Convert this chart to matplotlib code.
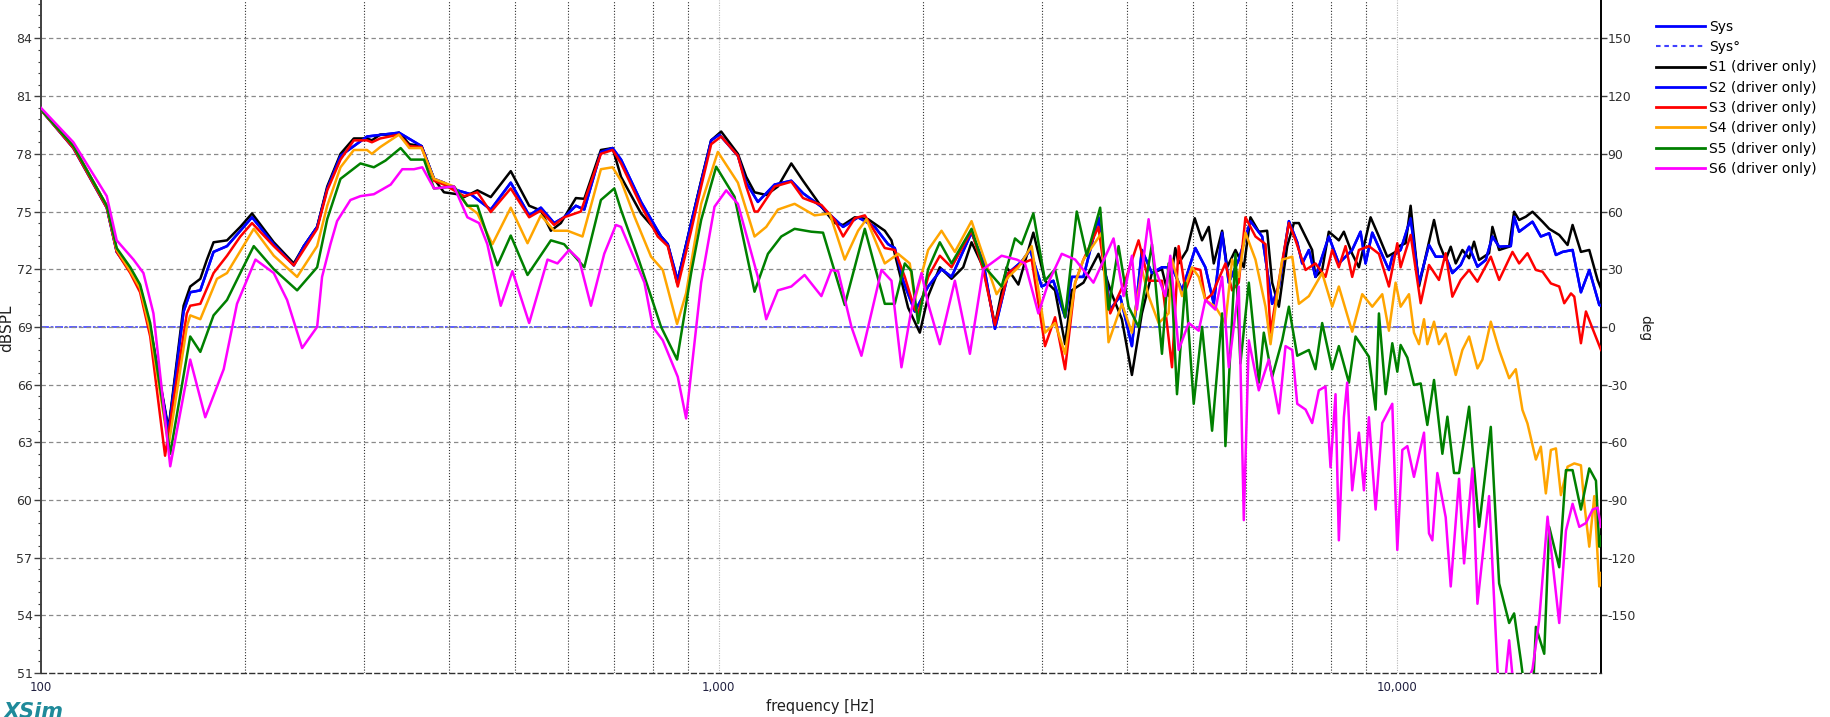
import matplotlib
matplotlib.use("Agg")
import matplotlib.pyplot as plt
from matplotlib.ticker import FixedLocator, FixedFormatter, AutoMinorLocator, NullFormatter
from matplotlib.lines import Line2D

plt.rcParams['font.family'] = ['DejaVu Sans']
plt.rcParams['axes.unicode_minus'] = False

# ---------------- data ----------------
s1_freq = [100, 111.7, 125.1, 129.4, 135.5, 140.1, 145, 154.3, 162.4, 166.1, 171.9, 175.8, 179.8, 188.2, 196.9, 204.9, 220.6, 236.1, 244.3, 255.6, 264.5, 276.7, 289.5, 302.8, 307.8, 316.6, 331.6, 337.5, 349.6, 364.4, 380.1, 393.2, 411.5, 421, 440.5, 460.9, 493.3, 525.1, 546.4, 565.3, 584.8, 615.4, 633.2, 670, 697.1, 717.4, 767.8, 821.9, 840.7, 867.8, 910.2, 941.7, 974.3, 1007.9, 1066.8, 1097.5, 1128.9, 1174.6, 1222.1, 1279, 1330.9, 1416.5, 1482.3, 1525, 1586.7, 1660.2, 1756.8, 1797.1, 1838.2, 1901.7, 1978.8, 2035.6, 2117.9, 2203.9, 2292.9, 2358.8, 2454.3, 2553.8, 2657.3, 2765.4, 2909.7, 3027.3, 3132.2, 3240.8, 3314.8, 3449.5, 3629.6, 3798.5, 3930.2, 4066.4, 4206.4, 4352.2, 4503.2, 4606.1, 4712.2, 4765.7, 4903.7, 5033, 5159.5, 5278.5, 5369.4, 5523.7, 5618.6, 5780, 5946.1, 6081.8, 6256.5, 6436.2, 6546.9, 6697.9, 6890.5, 7049.3, 7168.9, 7498.9, 7584, 7758.9, 7935.9, 8210.9, 8352, 8592, 8790.1, 9145.3, 9408, 9678.3, 9956.3, 10069, 10302, 10478, 10779, 11025, 11344, 11536, 11803, 12006, 12212, 12491, 12779, 12996, 13219, 13677, 13832, 14151, 14641, 14889, 15145, 15494, 15849, 16398, 16773, 17355, 17853, 18160, 18682, 19219, 19770, 20000]
s1_db = [80.3, 78.4, 75.3, 73.0, 72.0, 71.1, 69.0, 63.7, 70.1, 71.1, 71.5, 72.5, 73.4, 73.5, 74.2, 74.9, 73.4, 72.3, 73.2, 74.2, 76.3, 78.0, 78.8, 78.8, 78.7, 79.0, 79.0, 79.1, 78.5, 78.4, 76.7, 76.0, 75.9, 75.75, 76.1, 75.75, 77.1, 75.3, 75.05, 74.0, 74.4, 75.7, 75.66, 78.2, 78.3, 76.8, 74.9, 73.7, 73.3, 71.3, 74.4, 76.6, 78.7, 79.16, 78.0, 76.8, 76.0, 75.86, 76.3, 77.5, 76.6, 75.25, 74.4, 74.3, 74.7, 74.6, 74.0, 73.5, 72.1, 70.0, 68.7, 70.6, 72.1, 71.5, 72.1, 73.4, 72.1, 69.1, 72.1, 71.2, 73.9, 71.4, 70.9, 68.1, 70.9, 71.3, 72.8, 70.7, 69.4, 66.5, 69.7, 71.8, 72.0, 70.6, 73.1, 72.3, 73.0, 74.65, 73.5, 74.2, 72.3, 74.0, 72.1, 73.0, 72.1, 74.7, 73.95, 74.0, 71.3, 70.05, 73.2, 74.4, 74.4, 73.0, 71.6, 71.96, 73.95, 73.5, 73.95, 72.8, 72.1, 74.7, 73.7, 72.65, 72.9, 73.2, 73.35, 75.3, 71.1, 72.65, 74.56, 73.35, 72.5, 73.17, 72.3, 73.0, 72.57, 73.43, 72.48, 72.83, 74.2, 73.0, 73.17, 74.99, 74.56, 74.73, 74.99, 74.47, 74.1, 73.78, 73.26, 74.3, 72.9, 73.0, 71.44, 71.0]

s2_freq = [100, 111.7, 125.1, 129.4, 135.5, 140.1, 145, 154.3, 162.4, 166.1, 171.9, 179.8, 188.2, 204.9, 220.6, 236.1, 244.3, 255.6, 264.5, 276.7, 302.8, 337.5, 364.4, 380.1, 393.2, 411.5, 430.6, 460.9, 493.3, 525.1, 546.4, 571.6, 591.3, 615.4, 633.2, 670, 697.1, 717.4, 767.8, 821.9, 840.7, 869.8, 910.2, 974.3, 1002, 1066.8, 1097.5, 1141.7, 1208.4, 1279, 1330.9, 1416.5, 1525, 1604.7, 1698.2, 1776.7, 1817.5, 1869.7, 1945.3, 2035.6, 2130.1, 2203.9, 2358.8, 2454.3, 2553.8, 2672.6, 2796.8, 2877.1, 2993.3, 3114.2, 3240.8, 3314.8, 3449.5, 3629.6, 3777.5, 3907.6, 4066.4, 4206.4, 4352.2, 4503.2, 4659.4, 4821, 5044, 5218, 5369, 5524, 5650, 5846, 6082, 6329, 6547, 6698, 6930, 7129, 7250, 7417, 7584, 7936, 8211, 8592, 8839, 8991, 9198, 9734, 9845, 10127, 10478, 10779, 11152, 11407, 11803, 12073, 12420, 12779, 13146, 13523, 13832, 14151, 14722, 14889, 15145, 15849, 16304, 16773, 17160, 17551, 18160, 18682, 19219, 19884, 20000]
s2_db = [80.3, 78.3, 75.2, 72.9, 71.9, 71.0, 68.9, 63.6, 69.8, 70.8, 70.9, 72.9, 73.2, 74.7, 73.3, 72.2, 73.2, 74.2, 76.2, 77.9, 78.9, 79.1, 78.4, 76.7, 76.5, 76.1, 75.9, 75.1, 76.5, 74.8, 75.2, 74.4, 74.7, 75.3, 75.1, 78.1, 78.3, 77.7, 75.5, 73.7, 73.3, 71.4, 74.4, 78.7, 79.0, 77.9, 76.5, 75.5, 76.4, 76.6, 75.95, 75.25, 74.2, 74.7, 74.2, 73.3, 73.1, 71.4, 69.8, 71.1, 72.0, 71.6, 73.9, 72.4, 68.9, 71.8, 72.4, 73.0, 71.1, 71.4, 69.5, 71.6, 71.6, 74.7, 69.9, 70.6, 68.0, 73.0, 71.8, 72.1, 72.1, 70.9, 73.1, 72.1, 70.2, 73.9, 71.3, 72.5, 74.5, 73.7, 70.2, 71.1, 74.5, 73.4, 72.3, 73.0, 71.6, 73.7, 72.3, 73.0, 73.95, 72.3, 73.9, 71.96, 72.65, 73.0, 74.65, 71.26, 73.26, 72.65, 72.65, 71.8, 72.22, 73.17, 72.13, 72.48, 73.7, 73.17, 73.2, 74.73, 73.95, 74.47, 73.7, 73.87, 72.74, 72.9, 73.0, 70.8, 71.96, 70.14, 70.1]

s3_freq = [100, 111.7, 125.1, 129.4, 135.5, 140.1, 145, 152.5, 164.2, 166.1, 171.9, 179.8, 188.2, 196.9, 204.9, 220.6, 236.1, 255.6, 264.5, 276.7, 289.5, 302.8, 307.8, 316.6, 337.5, 349.6, 364.4, 380.1, 393.2, 421, 440.5, 460.9, 493.3, 525.1, 546.4, 571.6, 591.3, 625.8, 670, 697.1, 717.4, 767.8, 812.7, 840.7, 869.8, 910.2, 941.7, 974.3, 1007.9, 1066.8, 1097.5, 1128.9, 1141.7, 1208.4, 1279, 1330.9, 1416.5, 1482.3, 1525, 1586.7, 1641.7, 1756.8, 1817.5, 1880.3, 1945.3, 1967.5, 2035.6, 2117.9, 2203.9, 2358.8, 2454.3, 2553.8, 2672.6, 2796.8, 2893.1, 3027.3, 3132.2, 3240.8, 3353.2, 3449.5, 3629.6, 3777.5, 3974.8, 4159.2, 4303.4, 4503.2, 4659.4, 4765.7, 4875.6, 5015.5, 5131.1, 5218.1, 5338.6, 5586.3, 5713.8, 5845.6, 5979, 6186.3, 6400.7, 6510.8, 6697.9, 6930.3, 7088.4, 7334.2, 7584, 7846.9, 8027.7, 8210.9, 8400.2, 8592, 8790.1, 9092.8, 9408, 9734.2, 10014, 10127, 10478, 10842, 11152, 11536, 11803, 12073, 12420, 12779, 13146, 13756, 14151, 14807, 15145, 15580, 16032, 16398, 16870, 17355, 17653, 18060, 18265, 18682, 19003, 19441, 20000]
s3_db = [80.3, 78.3, 75.2, 72.9, 71.8, 70.8, 68.5, 62.3, 69.7, 70.1, 70.2, 71.8, 72.7, 73.7, 74.4, 73.2, 72.2, 74.1, 76.1, 77.7, 78.7, 78.7, 78.6, 78.8, 79.0, 78.4, 78.35, 76.6, 76.4, 75.8, 76.0, 74.97, 76.2, 74.7, 75.05, 74.3, 74.7, 75.0, 78.0, 78.2, 77.5, 75.3, 73.7, 73.2, 71.1, 74.0, 76.3, 78.5, 78.9, 77.9, 76.3, 75.0, 75.0, 76.3, 76.55, 75.7, 75.34, 74.56, 73.7, 74.65, 74.8, 73.1, 73.0, 71.6, 69.9, 69.7, 71.6, 72.7, 72.1, 74.0, 71.96, 69.1, 71.8, 72.3, 72.5, 68.0, 69.5, 66.8, 71.3, 72.5, 74.2, 69.7, 71.4, 73.5, 71.4, 71.4, 66.9, 73.2, 70.9, 72.05, 71.96, 70.4, 70.7, 72.3, 70.9, 71.3, 74.7, 73.7, 73.3, 68.7, 71.4, 74.4, 73.5, 71.96, 72.3, 71.6, 73.0, 72.1, 73.2, 71.6, 73.0, 73.2, 72.8, 71.1, 73.35, 72.1, 73.78, 70.23, 72.22, 71.44, 72.83, 70.57, 71.44, 71.96, 71.35, 72.65, 71.44, 72.9, 72.3, 72.83, 71.96, 71.87, 71.26, 71.1, 70.23, 70.74, 70.57, 68.15, 69.8, 68.9, 67.8]

s4_freq = [100, 111.7, 125.1, 129.4, 135.5, 140.1, 145, 154.3, 164.2, 166.1, 171.9, 181.9, 188.2, 206.1, 220.6, 238.8, 255.6, 264.5, 276.7, 289.5, 302.8, 307.8, 316.6, 337.5, 349.6, 364.4, 380.1, 406.8, 425.7, 440.5, 463.5, 493.3, 522.2, 546.4, 571.6, 598.2, 629.4, 670, 697.1, 717.4, 751.6, 794.4, 826.6, 867.8, 894.8, 941.7, 996.6, 1066.8, 1128.9, 1174.6, 1222.1, 1293.4, 1384.4, 1457.2, 1533.5, 1604.7, 1650.8, 1756.8, 1838.2, 1912.4, 1945.3, 2035.6, 2130.1, 2228.9, 2358.8, 2454.3, 2568.3, 2672.6, 2765.4, 2893.1, 3027.3, 3132.2, 3240.8, 3353.2, 3449.5, 3671.7, 3755.9, 3930.2, 4066.4, 4206.4, 4303.4, 4452.6, 4606.1, 4659, 4821, 4987, 5102, 5218, 5399, 5586, 5714, 5846, 5979, 6186, 6401, 6511, 6623, 6774, 7009, 7169, 7417, 7759, 8028, 8211, 8592, 8890, 9198, 9515, 9734, 9956, 10127, 10419, 10597, 10779, 10965, 11089, 11344, 11536, 11803, 12212, 12491, 12779, 13146, 13371, 13756, 14151, 14641, 14975, 15317, 15580, 16032, 16304, 16584, 16870, 17160, 17455, 17853, 18265, 18682, 18898, 19219, 19549, 19884, 20000]
s4_db = [80.3, 78.4, 75.3, 73.0, 71.9, 71.0, 68.8, 62.8, 69.0, 69.6, 69.4, 71.5, 71.8, 74.1, 72.7, 71.6, 73.2, 75.3, 77.3, 78.2, 78.2, 78.0, 78.35, 79.0, 78.3, 78.3, 76.7, 76.3, 75.3, 74.9, 73.3, 75.2, 73.35, 74.8, 74.0, 74.0, 73.7, 77.2, 77.3, 76.6, 74.7, 72.65, 71.96, 69.15, 70.75, 75.4, 78.1, 76.5, 73.7, 74.2, 75.1, 75.4, 74.8, 74.9, 72.5, 74.0, 74.6, 72.3, 72.8, 72.3, 70.4, 73.0, 74.0, 72.9, 74.5, 72.7, 70.7, 71.6, 72.1, 73.2, 68.7, 69.2, 67.6, 71.3, 72.5, 73.9, 68.2, 70.2, 68.7, 72.0, 70.6, 69.2, 69.7, 72.5, 70.6, 72.1, 71.6, 70.4, 70.05, 69.2, 72.5, 71.6, 73.9, 72.5, 70.05, 68.1, 70.05, 72.5, 72.65, 70.2, 70.6, 71.8, 70.05, 71.1, 68.75, 70.7, 70.05, 70.7, 68.8, 71.3, 70.05, 70.7, 68.7, 68.1, 69.4, 68.1, 69.27, 68.1, 68.65, 66.5, 67.8, 68.5, 66.84, 67.3, 69.27, 67.8, 66.33, 66.8, 64.68, 63.98, 62.1, 62.77, 60.34, 62.6, 62.68, 60.25, 61.73, 61.9, 61.8, 59.8, 57.57, 60.2, 55.5, 56.2]

s5_freq = [100, 111.7, 125.1, 129.4, 135.5, 140.1, 145, 155.2, 166.1, 171.9, 179.8, 188.2, 196.9, 206.1, 220.6, 238.8, 255.6, 264.5, 276.7, 296.1, 309.9, 322.4, 339.4, 351.1, 367.4, 380.1, 406.8, 425.7, 440.5, 471.5, 493.3, 522.2, 565.3, 591.3, 633.2, 670, 701.1, 717.4, 759.2, 785.5, 821.9, 867.8, 910.2, 941.7, 991, 1054.6, 1128.9, 1181.4, 1236.1, 1293.4, 1368.8, 1424.4, 1533.5, 1641.7, 1756.8, 1817.5, 1880.3, 1923.4, 1967.5, 2035.6, 2117.9, 2203.9, 2358.8, 2454.3, 2612.4, 2733.8, 2796.8, 2909.7, 3027.3, 3132.2, 3240.8, 3371.8, 3488.6, 3650.6, 3755.9, 3886.1, 4019.9, 4159.2, 4352.2, 4503.2, 4606.1, 4659, 4739, 4876, 5016, 5160, 5339, 5524, 5586, 5780, 5878, 6048, 6257, 6364, 6547, 6774, 6930, 7129, 7417, 7584, 7759, 8028, 8211, 8496, 8690, 9093, 9303, 9408, 9625, 9845, 10014, 10127, 10362, 10597, 10842, 11089, 11344, 11670, 11871, 12142, 12351, 12779, 12996, 13219, 13756, 14151, 14641, 14889, 15232, 15580, 15849, 16032, 16493, 16773, 17355, 17755, 18160, 18682, 19219, 19661, 19884, 20000]
s5_db = [80.3, 78.4, 75.3, 73.1, 72.1, 71.2, 69.2, 62.4, 68.5, 67.7, 69.6, 70.4, 71.8, 73.2, 72.0, 70.9, 72.1, 74.6, 76.7, 77.5, 77.3, 77.65, 78.3, 77.7, 77.7, 76.2, 76.3, 75.3, 75.3, 72.2, 73.75, 71.7, 73.5, 73.3, 72.1, 75.6, 76.2, 75.08, 72.65, 71.1, 69.0, 67.3, 71.8, 74.56, 77.33, 75.77, 70.83, 72.8, 73.7, 74.1, 73.95, 73.9, 70.14, 74.1, 70.2, 70.2, 72.3, 71.9, 69.2, 72.0, 73.4, 72.3, 74.1, 72.2, 71.1, 73.6, 73.3, 74.9, 71.4, 72.0, 69.5, 75.0, 72.7, 75.2, 69.9, 73.2, 70.05, 69.0, 73.3, 67.6, 72.3, 70.9, 65.5, 71.3, 65.0, 69.0, 63.6, 69.7, 62.8, 72.8, 67.1, 71.3, 66.1, 68.7, 66.4, 68.3, 70.05, 67.5, 67.8, 66.8, 69.2, 66.8, 68.0, 66.1, 68.5, 67.45, 64.7, 69.7, 65.5, 68.15, 66.67, 68.06, 67.4, 65.98, 66.06, 63.9, 66.24, 62.4, 64.33, 61.4, 61.4, 64.85, 61.7, 58.6, 63.8, 55.66, 53.6, 54.1, 51.67, 49.0, 49.5, 53.4, 52.0, 58.6, 56.5, 61.55, 61.55, 59.5, 61.64, 61.0, 57.57, 58.1]

s6_freq = [100, 111.7, 125.1, 129.4, 137, 141.7, 146.6, 155.2, 166.1, 174.8, 186.1, 194.7, 207.3, 220.6, 230.8, 242.9, 255.6, 259.9, 267.4, 273.5, 286.2, 296.1, 309.9, 328.1, 341.3, 355.1, 365.3, 380.1, 406.8, 425.7, 442.9, 455.6, 476.8, 496.1, 525.1, 558.9, 578.1, 601.4, 622.3, 647.7, 677.6, 705, 717.4, 776.7, 799, 826.6, 869.8, 894.8, 941.7, 985.4, 1025.2, 1066.8, 1103.6, 1141.7, 1174.6, 1222.1, 1279, 1338, 1416.5, 1465.3, 1499.1, 1568.8, 1622.9, 1737.2, 1797.1, 1859.1, 1923, 1990, 2035.6, 2117.9, 2228.9, 2345.7, 2454.3, 2612.4, 2749.6, 2828.5, 2959.7, 3062.3, 3204.4, 3353.2, 3568.3, 3820.4, 3952.9, 4066.4, 4136.3, 4303.4, 4401.6, 4554.3, 4632.7, 4766, 4931, 5102, 5218, 5399, 5524, 5650, 5846, 5946, 6048, 6257, 6473, 6698, 6851, 7009, 7129, 7334, 7499, 7672, 7847, 7982, 8119, 8211, 8352, 8447, 8592, 8790, 8941, 9093, 9303, 9515, 9845, 10014, 10186, 10362, 10597, 10965, 11152, 11279, 11473, 11803, 12006, 12351, 12563, 12924, 13146, 13677, 14070, 14300, 14641, 14975, 15849, 16214, 16680, 17355, 17755, 18160, 18578, 19003, 19441, 19770, 20000]
s6_db = [80.4, 78.6, 75.8, 73.5, 72.5, 71.8, 69.7, 61.75, 67.3, 64.3, 66.8, 70.2, 72.5, 71.8, 70.4, 67.9, 69.0, 71.6, 73.3, 74.5, 75.6, 75.8, 75.9, 76.4, 77.2, 77.2, 77.3, 76.2, 76.3, 74.7, 74.4, 73.3, 70.1, 71.9, 69.2, 72.5, 72.3, 73.0, 72.5, 70.1, 72.8, 74.3, 74.2, 71.3, 69.0, 68.3, 66.4, 64.24, 71.3, 75.25, 76.1, 75.4, 73.5, 71.6, 69.4, 70.9, 71.1, 71.7, 70.6, 71.96, 71.9, 69.0, 67.5, 71.96, 71.4, 66.9, 69.9, 71.8, 70.2, 68.1, 71.4, 67.6, 72.0, 72.7, 72.5, 72.3, 69.7, 71.3, 72.8, 72.5, 71.3, 73.6, 70.6, 72.7, 69.9, 74.6, 72.0, 70.6, 72.7, 67.8, 69.2, 68.8, 70.4, 69.9, 71.6, 66.9, 71.1, 58.95, 68.3, 65.7, 67.3, 64.5, 68.0, 67.8, 65.0, 64.7, 64.0, 65.7, 65.9, 61.7, 65.5, 57.9, 64.3, 66.1, 60.5, 63.5, 60.5, 64.3, 59.5, 64.0, 65.0, 57.4, 62.6, 62.8, 61.2, 63.5, 58.26, 57.9, 61.4, 59.1, 55.5, 61.1, 56.7, 61.64, 54.6, 60.2, 51.2, 49.0, 52.7, 49.0, 51.2, 53.75, 59.13, 53.6, 58.4, 59.8, 58.6, 58.8, 59.5, 59.6, 58.6]

# Sys magnitude coincides with the blue S2 trace; Sys phase is flat at 0 deg
sys_freq = s2_freq
sys_db = s2_db
sys_phase_freq = [100, 20000]
sys_phase_deg = [0, 0]

series_names = ['S1 (driver only)', 'S2 (driver only)', 'S3 (driver only)',
                'S4 (driver only)', 'S5 (driver only)', 'S6 (driver only)']
series_freqs = [s1_freq, s2_freq, s3_freq, s4_freq, s5_freq, s6_freq]
series_dbs = [s1_db, s2_db, s3_db, s4_db, s5_db, s6_db]
series_colors = ['#000000', '#0000ff', '#ff0000', '#ffa500', '#008000', '#ff00ff']

db_ticks = [51, 54, 57, 60, 63, 66, 69, 72, 75, 78, 81, 84]
deg_ticks = [-150, -120, -90, -60, -30, 0, 30, 60, 90, 120, 150]
x_ticks = [100, 1000, 10000]
x_tick_labels = ['100', '1,000', '10,000']

# ---------------- figure ----------------
W, H = 1830, 717
fig = plt.figure(figsize=(W / 100, H / 100), dpi=100)
ax = fig.add_axes([40.8 / W, 1 - 673 / H, (1601 - 40.8) / W, 673 / H])
ax2 = ax.twinx()

ax.set_xscale('log')
ax.set_xlim(100, 20000)
ax.set_ylim(51, 86)
ax2.set_ylim(-180, 170)

# grid
minor_x = [m * 10 ** k for k in (2, 3, 4) for m in range(2, 10) if m * 10 ** k < 20000]
for f in minor_x:
    ax.axvline(f, color='#303030', lw=0.8, ls=(0, (1, 1.6)), zorder=1)
for f in [1000, 10000]:
    ax.axvline(f, color='#b8b8b8', lw=0.8, ls=(0, (1, 1.2)), zorder=1)
for d in db_ticks[1:]:
    ax.axhline(d, color='#8a8a8a', lw=0.9, ls=(0, (3.5, 2.5)), zorder=1)

# curves
ax.plot(sys_freq, sys_db, color='#0000ff', lw=1.8, zorder=2)
ax2.plot(sys_phase_freq, sys_phase_deg, color='#5050ff', lw=1.3,
         ls=(0, (4.4, 0.95, 1.5, 0.95)), zorder=2)
for fr, db, c in zip(series_freqs, series_dbs, series_colors):
    ax.plot(fr, db, color=c, lw=1.8, zorder=3)

ax.set_zorder(ax2.get_zorder() + 1)
ax.patch.set_visible(False)

# spines
for a in (ax, ax2):
    a.spines['top'].set_visible(False)
ax.spines['left'].set_color('#404040')
ax.spines['left'].set_linewidth(1.4)
ax.spines['bottom'].set_color('#303030')
ax.spines['bottom'].set_linewidth(1.0)
ax.spines['bottom'].set_linestyle((0, (3.5, 2.5)))
ax.spines['right'].set_visible(False)
ax2.spines['left'].set_visible(False)
ax2.spines['bottom'].set_visible(False)
ax2.spines['right'].set_color('#000000')
ax2.spines['right'].set_linewidth(1.4)

# ticks
ax.xaxis.set_major_locator(FixedLocator(x_ticks))
ax.xaxis.set_major_formatter(FixedFormatter(x_tick_labels))
ax.xaxis.set_minor_locator(FixedLocator([]))
ax.xaxis.set_minor_formatter(NullFormatter())
ax.tick_params(axis='x', which='both', length=0, pad=6, labelsize=8.5, labelcolor='#202040')
ax.yaxis.set_major_locator(FixedLocator(db_ticks))
ax.yaxis.set_minor_locator(AutoMinorLocator(5))
ax.tick_params(axis='y', which='major', length=5, width=1.0, pad=1, labelsize=9,
               labelcolor='#303030', color='#404040')
ax.tick_params(axis='y', which='minor', length=2.5, width=0.8, color='#404040')
ax2.yaxis.set_major_locator(FixedLocator(deg_ticks))
ax2.tick_params(axis='y', which='major', length=4, width=1.0, pad=0.5, labelsize=9,
                labelcolor='#303030', color='#404040')

# labels
fig.text(7 / W, 1 - 328 / H, 'dBSPL', rotation=90, ha='center', va='center',
         fontsize=11, color='#202020')
fig.text(1645 / W, 1 - 328 / H, 'deg', rotation=270, ha='center', va='center',
         fontsize=10, color='#202020')
fig.text(820 / W, 1 - 706 / H, 'frequency [Hz]', ha='center', va='center',
         fontsize=10.5, color='#202020')
fig.text(3 / W, 1 - 702 / H, 'XSim', ha='left', va='top', fontsize=15,
         fontweight='bold', fontstyle='italic', color='#1f8a9a')

# legend
handles = [
    Line2D([], [], color='#0000ff', lw=2.0),
    Line2D([], [], color='#4040ff', lw=1.5, ls=(0, (2.2, 1.8))),
] + [Line2D([], [], color=c, lw=2.0) for c in series_colors]
labels = ['Sys', 'Sys\u00b0'] + series_names
fig.legend(handles, labels, loc='upper left', bbox_to_anchor=(1656 / W, 1 - 20 / H),
           frameon=False, fontsize=10, handlelength=3.5, handletextpad=0.3,
           labelspacing=0.45, borderpad=0, borderaxespad=0)

fig.savefig('out.png', dpi=100)
